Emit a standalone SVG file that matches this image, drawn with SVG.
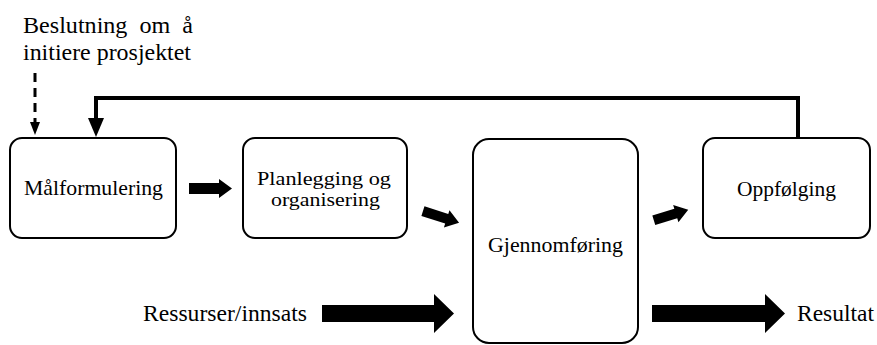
<svg xmlns="http://www.w3.org/2000/svg" width="877" height="345" viewBox="0 0 877 345">
<style>
.box{fill:#fff;stroke:#000;stroke-width:2}
.t{font-family:'Liberation Serif','DejaVu Serif',serif;font-size:22px;fill:#000}
.o{font-size:23.5px}
.s{font-size:19px}
.blk{fill:#000}
</style>
<rect width="877" height="345" fill="#fff"/>
<text class="t o" x="23" y="33" xml:space="preserve" textLength="170" lengthAdjust="spacingAndGlyphs">Beslutning  om  å</text>
<text class="t o" x="23" y="60" textLength="168" lengthAdjust="spacingAndGlyphs">initiere prosjektet</text>
<g id="connectors">
<line x1="35" y1="73" x2="35" y2="122" stroke="#000" stroke-width="3" stroke-dasharray="9,6"/>
<polygon class="blk" points="30,122 40,122 35,135"/>
<polyline points="798,138 798,98 96,98 96,122" fill="none" stroke="#000" stroke-width="4"/>
<polygon class="blk" points="88,118 104,118 96,137"/>
<polygon class="blk" points="189,183 219,183 219,179 232,188.5 219,198 219,194 189,194"/>
<polygon class="blk" transform="translate(441,217) rotate(18)" points="-19,-5 6,-5 6,-9 19,0 6,9 6,5 -19,5"/>
<polygon class="blk" transform="translate(671,215) rotate(-17)" points="-18,-5 5,-5 5,-9 18,0 5,9 5,5 -18,5"/>
<polygon class="blk" points="322,305 434,305 434,294 454,313.5 434,333 434,322 322,322"/>
<polygon class="blk" points="652,305 765,305 765,294 785,313.5 765,333 765,322 652,322"/>
</g>
<g id="malformulering">
<rect class="box" x="10" y="138" width="166" height="100" rx="12"/>
<text class="t" x="24" y="195" textLength="139" lengthAdjust="spacingAndGlyphs">Målformulering</text>
</g>
<g id="planlegging">
<rect class="box" x="243" y="138" width="164" height="100" rx="12"/>
<text class="t s" x="257" y="185" textLength="134" lengthAdjust="spacingAndGlyphs">Planlegging og</text>
<text class="t s" x="271" y="206" textLength="109" lengthAdjust="spacingAndGlyphs">organisering</text>
</g>
<g id="gjennomforing">
<rect class="box" x="473" y="139" width="165" height="204" rx="16"/>
<text class="t" x="488" y="252" textLength="135" lengthAdjust="spacingAndGlyphs">Gjennomføring</text>
</g>
<g id="oppfolging">
<rect class="box" x="703" y="138" width="167" height="100" rx="12"/>
<text class="t" x="737" y="196" textLength="99" lengthAdjust="spacingAndGlyphs">Oppfølging</text>
</g>
<text class="t o" x="143" y="321" textLength="164" lengthAdjust="spacingAndGlyphs">Ressurser/innsats</text>
<text class="t o" x="797" y="321" textLength="77" lengthAdjust="spacingAndGlyphs">Resultat</text>
</svg>
